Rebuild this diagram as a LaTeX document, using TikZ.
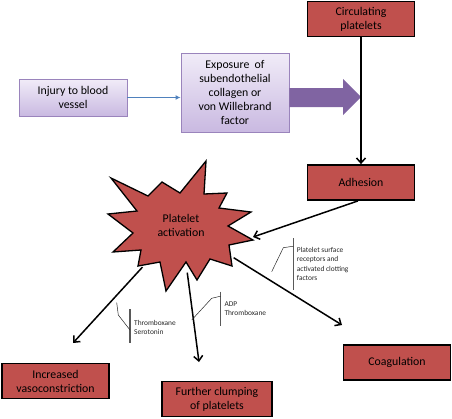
\documentclass[tikz,border=0pt]{standalone}
\usepackage{fontspec}
\setmainfont{Carlito}
\usetikzlibrary{arrows.meta}
\usetikzlibrary{shadows}
\definecolor{boxred}{HTML}{C0504D}
\definecolor{boxpurple}{HTML}{9A84BC}
\definecolor{bigpurple}{HTML}{8064A2}
\definecolor{lavtop}{HTML}{F1ECF8}
\definecolor{lavbot}{HTML}{C9B9E1}
\definecolor{arrblue}{HTML}{4F81BD}
\tikzset{redbox/.style={draw,fill=boxred,line width=1.8pt,minimum width=107pt,minimum height=35pt,
                        align=center,font=\fontsize{11.8}{14}\selectfont},
         purplebox/.style={draw=boxpurple,top color=lavtop,bottom color=lavbot,line width=0.9pt,
                        minimum width=108pt,align=center,font=\fontsize{11.8}{14}\selectfont,
                        drop shadow={opacity=0.35,shadow xshift=1.2pt,shadow yshift=-1.2pt}},
         arr/.style={-{Straight Barb[length=5pt,width=9pt,line width=1.5pt]},line width=1.5pt},
         bar/.style={draw=black!65,line width=1.1pt},
         leader/.style={draw=black!85,line width=0.5pt},
         note/.style={anchor=west,align=left,inner sep=0pt,text=black!85,
                      font=\fontsize{7.4}{9.2}\selectfont},
         }

\begin{document}
\begin{tikzpicture}[x=1pt,y=-1pt]
\useasboundingbox (0,0) rectangle (452,418);

% boxes
\node[redbox] (circ) at (361,19) {Circulating\\platelets};
\node[purplebox,minimum height=37pt] (injury) at (73,97.5) {Injury to blood\\vessel};
\node[purplebox,minimum height=79pt] (expo) at (235,92.5) {Exposure~ of\\subendothelial\\collagen or\\von Willebrand\\factor};
\node[redbox] (adh) at (361,182.5) {Adhesion};
\node[redbox] (vaso) at (55.5,381) {Increased\\vasoconstriction};
\node[redbox,minimum width=110pt] (clump) at (217,399) {Further clumping\\of platelets};
\node[redbox] (coag) at (397,362.5) {Coagulation};

% star
\draw[fill=boxred,line width=1.3pt,line join=miter]
  (111,178) -- (148,196) -- (162,182) -- (180,193) -- (206,161) -- (204,194)
  -- (227,193) -- (219,208) -- (251,212) -- (228,226) -- (253,240) -- (229,245)
  -- (232,266) -- (210,259) -- (197,280) -- (186,262) -- (166,291) -- (160,262)
  -- (138,266) -- (141,250) -- (113,252) -- (133,233) -- (108,214) -- (137,211) -- cycle;
\node[font=\fontsize{11.8}{14}\selectfont,align=center] (act) at (181,225) {Platelet\\activation};

% arrows
\draw[-{Latex[length=5pt,width=5pt]},arrblue,line width=1.1pt] (injury.east) -- (injury.east -| expo.west);
\fill[bigpurple] (expo.east |- 0,88) -- (343,88) -- (343,79) -- (361,97) -- (343,115)
  -- (343,107) -- (expo.east |- 0,107) -- cycle;
\draw[arr] (circ.south) -- (adh.north);
\coordinate (adhend) at (253,237);
\coordinate (vasoend) at (73,343);
\coordinate (clumpend) at (199,362);
\coordinate (coagend) at (342,325);
\draw[arr] ([xshift=-3pt]adh.south) -- (adhend);
\draw[arr,shorten <=57pt] (act.center) -- (vasoend);
\draw[arr,shorten <=48pt] (act.center) -- (clumpend);
\draw[arr,shorten <=62pt] (act.center) -- (coagend);

% callouts
\draw[bar] (130,309) -- (130,343);
\draw[leader] (116.7,302.7) -- (118.3,315) -- (130,330);
\node[note] (n1) at (134,327.5) {Thromboxane\\Serotonin};
\draw[bar] (220.7,291.7) -- (220.7,325.7);
\draw[leader] (191.7,320) -- (211.7,298.3) -- (218.3,296.7) -- (220.7,296.7);
\node[note] (n2) at (224.3,309) {ADP\\Thromboxane};
\draw[bar] (293.3,238) -- (293.3,290);
\draw[leader] (271.7,271.7) -- (283.3,247.7) -- (290,246.7) -- (293.3,246.7);
\node[note] (n3) at (296.7,264) {Platelet surface\\receptors and\\activated clotting\\factors};
\end{tikzpicture}
\end{document}
